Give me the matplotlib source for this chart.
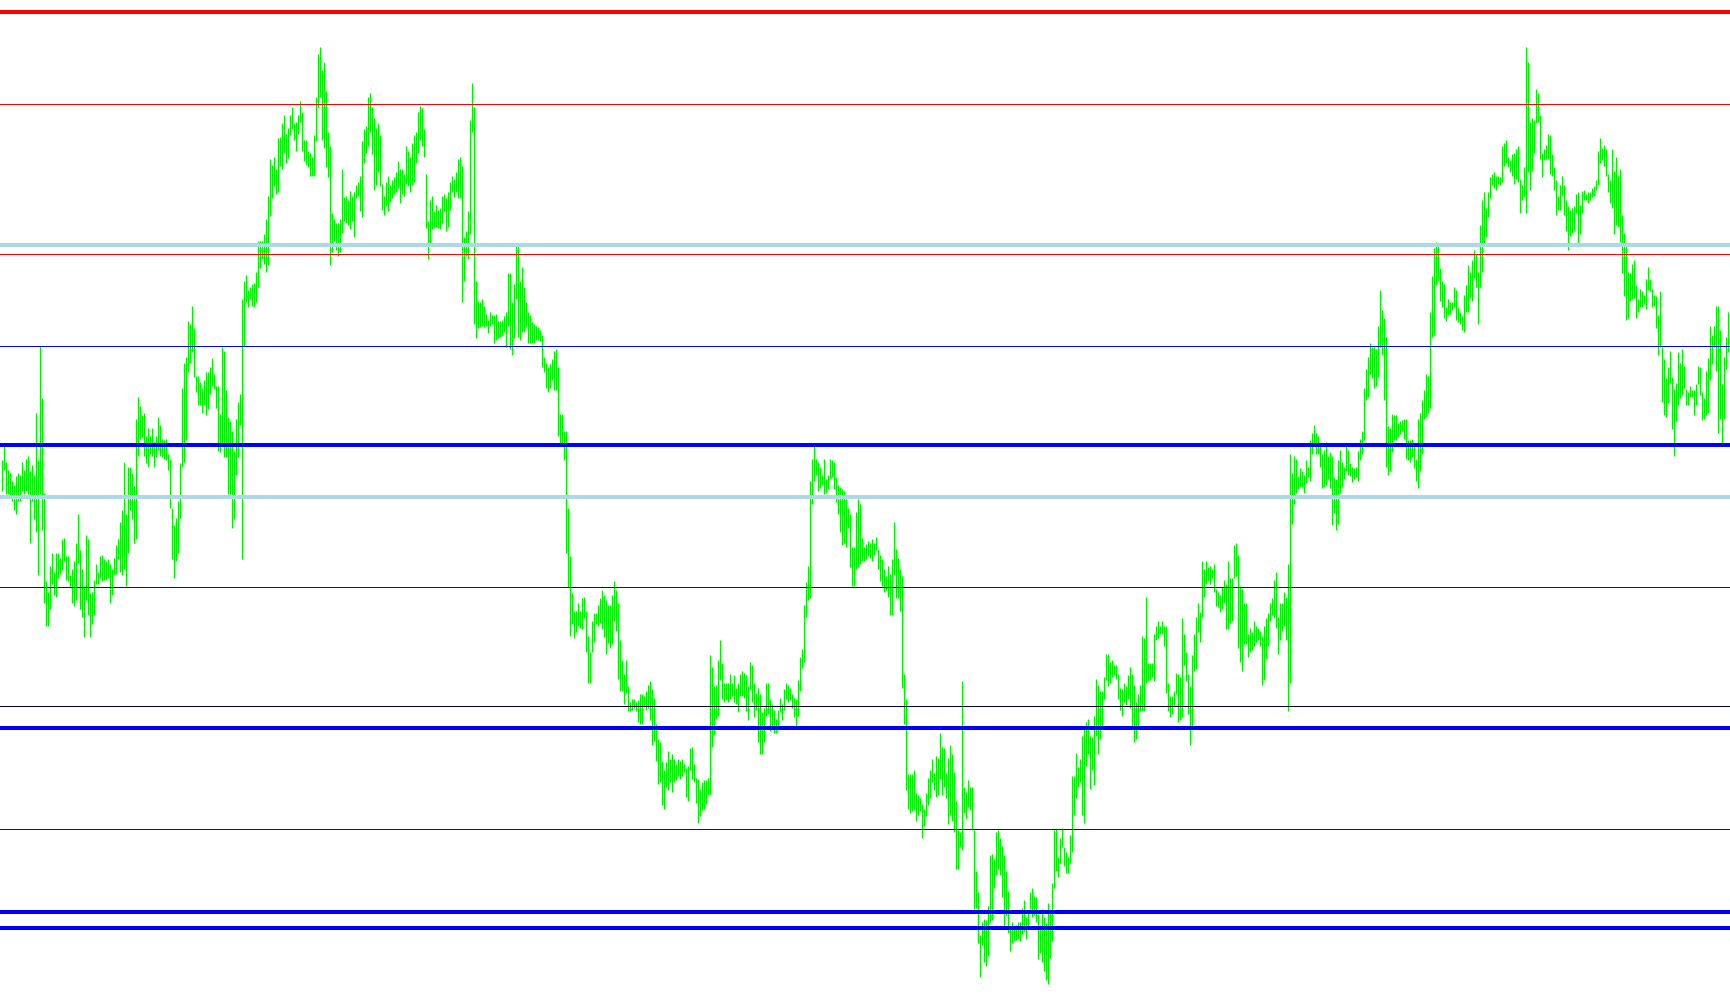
import numpy as np
import matplotlib.pyplot as plt

# bar highs / lows (price units), left to right
high = [
    905, 928, 902, 890, 885, 872, 865, 880, 885, 882, 902, 890, 908, 912, 888, 897, 882, 982, 905, 1090,
    1005, 852, 710, 692, 735, 755, 725, 755, 755, 748, 778, 780, 750, 750, 720, 730, 742, 772, 818, 760,
    730, 702, 784, 778, 690, 692, 712, 738, 725, 750, 752, 745, 742, 745, 738, 730, 748, 768, 778, 805,
    825, 902, 818, 895, 895, 885, 863, 972, 1008, 992, 978, 982, 945, 958, 945, 958, 935, 944, 975, 962,
    940, 938, 940, 915, 908, 828, 800, 812, 840, 900, 1022, 1062, 1072, 1130, 1125, 1154, 1118, 1042, 1042, 1032,
    1022, 1035, 1048, 1048, 1055, 1070, 1045, 1025, 1025, 980, 1088, 1082, 1018, 975, 968, 952, 920, 972, 1000, 1012,
    1165, 1195, 1205, 1180, 1185, 1190, 1192, 1210, 1260, 1260, 1260, 1270, 1295, 1332, 1392, 1382, 1395, 1375, 1425, 1428,
    1450, 1462, 1432, 1442, 1462,
    1475, 1450, 1452, 1462, 1485, 1468, 1422, 1422, 1405, 1402, 1395, 1430, 1492, 1562, 1572, 1535, 1548, 1502, 1435, 1412,
    1305, 1295, 1288, 1288, 1295, 1375, 1330, 1332, 1325, 1340, 1332, 1338, 1350, 1355, 1365, 1420, 1440, 1445, 1492, 1498,
    1475, 1458, 1442, 1450, 1430, 1352, 1332, 1355, 1365, 1350, 1358, 1362, 1370, 1388, 1375, 1375, 1368, 1412, 1405, 1395,
    1418, 1430, 1435, 1468, 1478, 1474, 1440, 1368, 1292, 1325, 1332, 1308, 1318, 1310, 1312, 1332, 1335, 1328, 1338, 1355,
    1365, 1360, 1370, 1392, 1395, 1380, 1265, 1275, 1308, 1455, 1515, 1475, 1195, 1162, 1160, 1165, 1155, 1142, 1132, 1145,
    1140, 1140, 1142, 1130, 1130, 1132, 1138, 1145, 1208, 1208, 1160, 1190, 1252, 1252, 1195, 1218, 1185, 1160, 1145, 1140,
    1128, 1125, 1122, 1120, 1115, 1108, 1072, 1062, 1055, 1060, 1068, 1082, 1085, 1055, 980, 980, 952, 952, 828, 750,
    690, 662, 662, 675, 662,
    682, 685, 662, 622, 595, 645, 658, 658, 672, 682, 695, 688, 680, 672, 672, 688, 710, 695, 675, 615,
    582, 560, 582, 540, 515, 520, 520, 515, 518, 528, 528, 525, 532, 542, 548, 535, 522, 480, 455, 450,
    420, 405, 418, 435, 422, 430, 422, 415, 422, 420, 422, 415, 408, 412, 440, 442, 415, 392, 390, 375,
    385, 388, 388, 392, 590, 572, 540, 542, 582, 615, 578, 545, 545, 545, 560, 545, 558, 538, 545, 560,
    565, 562, 558, 540, 580, 575, 545, 530, 538, 528, 498, 505, 545, 545, 520, 512, 502, 488, 502, 522,
    512, 535, 545, 542, 538, 528, 522, 520, 550, 588, 600, 672, 708, 735, 872, 908, 928, 908, 902, 895,
    882, 908, 875, 882, 908, 905, 902, 878, 865, 862, 858, 855, 842, 828, 818, 765, 765, 822, 842, 835,
    780, 765, 770, 775, 772,
    778, 772, 782, 762, 752, 745, 730, 718, 735, 722, 745, 805, 762, 748, 730, 718, 560, 520, 398, 398,
    398, 405, 368, 365, 360, 350, 342, 368, 392, 405, 422, 400, 428, 425, 465, 442, 440, 400, 425, 445,
    430, 402, 355, 308, 305, 548, 378, 370, 388, 378, 378, 308, 242, 208, 138, 160, 165, 162, 185, 268,
    270, 262, 305, 308, 295, 282, 268, 242, 210, 152, 160, 152, 155, 160, 160, 182, 195, 168, 178, 208,
    215, 202, 200, 172, 155, 180, 168, 158, 190, 180, 222, 308, 310, 265, 295, 312, 280, 272, 265, 300,
    395, 395, 432, 410, 422, 460, 472, 482, 488, 460, 458, 492, 552, 542, 532, 532, 555, 592, 592, 580,
    582, 575, 575, 560, 538, 535, 545, 540, 558, 572, 560, 542, 515, 528, 542, 622, 618, 685, 578, 578,
    578, 625, 638, 645, 638,
    645, 638, 638, 545, 525, 525, 532, 562, 560, 555, 650, 625, 595, 560, 540, 590, 625, 652, 675, 660,
    742, 730, 742, 732, 735, 730, 738, 698, 692, 688, 700, 712, 705, 742, 715, 715, 768, 772, 752, 702,
    698, 675, 675, 625, 635, 628, 645, 638, 635, 630, 622, 638, 650, 658, 675, 682, 712, 725, 652, 675,
    675, 692, 685, 738, 915, 885, 912, 908, 880, 892, 888, 882, 905, 895, 938, 950, 962, 950, 945, 928,
    915, 922, 935, 912, 918, 912, 878, 875, 905, 922, 902, 895, 928, 922, 900, 895, 892, 895, 920, 940,
    952, 1022, 1052, 1072, 1095, 1088, 1088, 1085, 1122, 1180, 1148, 1135, 1105, 960, 958, 980, 978, 978, 965, 968,
    970, 972, 972, 938, 938, 940, 928, 908, 972, 982, 1002, 1018, 1045, 1042, 1145, 1202, 1248, 1258, 1252, 1215,
    1195, 1190, 1152, 1165, 1160,
    1160, 1185, 1180, 1152, 1145, 1138, 1172, 1188, 1220, 1210, 1228, 1245, 1238, 1210, 1285, 1325, 1338, 1312, 1338, 1362,
    1368, 1370, 1365, 1365, 1362, 1412, 1418, 1422, 1395, 1390, 1400, 1402, 1408, 1412, 1360, 1350, 1378, 1572, 1548, 1452,
    1458, 1455, 1505, 1498, 1462, 1402, 1408, 1415, 1432, 1430, 1400, 1378, 1358, 1332, 1350, 1365, 1350, 1325, 1315, 1310,
    1312, 1315, 1335, 1338, 1318, 1340, 1342, 1335, 1338, 1338, 1345, 1348, 1358, 1405, 1425, 1410, 1415, 1408, 1368, 1358,
    1408, 1372, 1395, 1365, 1375, 1302, 1272, 1255, 1210, 1208, 1222, 1228, 1188, 1165, 1182, 1178, 1172, 1198, 1218, 1198,
    1182, 1172, 1170, 1140, 1178, 1088, 1068, 1038, 1055, 1082, 1040, 1020, 1030, 1080, 1062, 1085, 1058, 1020, 1015, 1025,
    1018, 1018, 1028, 1058, 1055, 1015, 1005, 1050, 1070, 1122, 1108, 1122, 1155, 1155, 1115, 1028, 1072, 1105, 1145, 1118,
]
low = [
    855, 890, 850, 850, 845, 840, 825, 818, 840, 840, 855, 850, 855, 850, 772, 840, 810, 790, 720, 850,
    792, 675, 638, 638, 665, 705, 688, 685, 715, 722, 728, 742, 712, 710, 700, 675, 670, 680, 740, 665,
    652, 620, 680, 655, 620, 640, 655, 705, 705, 715, 710, 712, 712, 715, 675, 688, 720, 722, 745, 725,
    720, 730, 702, 755, 825, 810, 772, 778, 912, 940, 942, 912, 900, 895, 915, 912, 895, 910, 922, 912,
    910, 908, 905, 890, 828, 745, 715, 742, 755, 812, 895, 902, 938, 1048, 1062, 1080, 1040, 1015, 995, 995,
    982, 995, 978, 988, 1012, 1025, 1020, 990, 920, 918, 932, 910, 910, 850, 850, 795, 810, 882, 910, 962,
    745, 1090, 1160, 1152, 1165, 1155, 1152, 1160, 1185, 1215, 1230, 1222, 1210, 1220, 1300, 1328, 1348, 1335, 1338, 1380,
    1375, 1402, 1385, 1393, 1430,
    1440, 1422, 1405, 1432, 1452, 1405, 1388, 1382, 1378, 1365, 1365, 1365, 1420, 1475, 1492, 1422, 1410, 1378, 1362, 1220,
    1242, 1260, 1245, 1235, 1242, 1272, 1292, 1288, 1285, 1278, 1292, 1265, 1328, 1332, 1308, 1298, 1385, 1402, 1412, 1435,
    1400, 1342, 1350, 1370, 1348, 1310, 1302, 1315, 1308, 1322, 1328, 1335, 1338, 1345, 1320, 1335, 1332, 1352, 1348, 1338,
    1350, 1355, 1385, 1402, 1422, 1412, 1395, 1280, 1230, 1255, 1278, 1280, 1282, 1280, 1278, 1288, 1308, 1275, 1282, 1310,
    1338, 1330, 1338, 1328, 1328, 1160, 1195, 1235, 1230, 1270, 1435, 1125, 1102, 1118, 1120, 1122, 1120, 1122, 1110, 1122,
    1125, 1095, 1100, 1102, 1105, 1108, 1112, 1088, 1122, 1085, 1075, 1102, 1165, 1105, 1100, 1112, 1112, 1120, 1095, 1095,
    1095, 1095, 1100, 1100, 1098, 1055, 1048, 1022, 1015, 1022, 1035, 1018, 1018, 945, 932, 932, 905, 755, 700, 622,
    640, 618, 628, 638, 635,
    632, 650, 595, 545, 545, 595, 612, 640, 638, 642, 632, 620, 592, 610, 602, 608, 645, 630, 552, 532,
    532, 512, 530, 500, 500, 502, 505, 500, 482, 480, 480, 508, 502, 505, 485, 445, 452, 420, 382, 385,
    348, 342, 378, 372, 385, 370, 385, 388, 395, 390, 395, 402, 362, 355, 405, 390, 385, 352, 320, 330,
    340, 342, 350, 365, 365, 442, 462, 488, 492, 550, 520, 515, 518, 515, 520, 525, 515, 512, 498, 525,
    525, 522, 500, 485, 535, 515, 490, 502, 450, 430, 430, 450, 492, 495, 468, 472, 465, 465, 470, 498,
    485, 502, 520, 515, 518, 505, 490, 475, 492, 532, 570, 580, 652, 680, 682, 835, 872, 882, 855, 860,
    865, 850, 852, 858, 875, 878, 858, 838, 818, 790, 768, 772, 765, 795, 732, 702, 702, 730, 732, 738,
    742, 742, 745, 750, 748,
    742, 752, 760, 730, 710, 702, 692, 695, 685, 655, 655, 720, 682, 682, 662, 538, 480, 372, 342, 335,
    338, 340, 322, 332, 338, 295, 315, 330, 348, 360, 385, 372, 362, 365, 390, 365, 378, 360, 318, 332,
    322, 305, 245, 245, 280, 275, 335, 325, 345, 340, 308, 180, 182, 125, 70, 122, 95, 88, 105, 160,
    162, 215, 235, 245, 235, 200, 152, 170, 142, 112, 125, 128, 130, 132, 128, 140, 145, 132, 152, 180,
    168, 170, 160, 100, 110, 95, 80, 65, 60, 102, 128, 215, 242, 232, 255, 280, 250, 238, 238, 255,
    272, 332, 360, 378, 385, 332, 320, 412, 430, 375, 405, 380, 460, 430, 455, 472, 520, 550, 540, 545,
    555, 558, 552, 520, 502, 492, 515, 510, 520, 505, 472, 450, 455, 472, 500, 500, 500, 545, 548, 550,
    555, 548, 615, 618, 625,
    625, 605, 530, 500, 490, 495, 510, 528, 482, 485, 490, 575, 548, 495, 445, 470, 565, 568, 628, 612,
    652, 685, 705, 710, 705, 715, 692, 670, 668, 660, 665, 675, 632, 632, 642, 645, 715, 718, 602, 580,
    565, 608, 608, 588, 595, 598, 605, 612, 615, 605, 542, 550, 585, 605, 645, 655, 650, 635, 592, 615,
    630, 638, 615, 500, 545, 802, 835, 852, 858, 862, 862, 852, 868, 878, 872, 915, 932, 915, 915, 895,
    860, 862, 865, 875, 860, 800, 820, 792, 802, 852, 862, 875, 888, 882, 880, 870, 875, 878, 872, 905,
    915, 938, 1002, 1008, 1045, 1038, 1022, 1025, 1040, 1088, 1075, 1002, 895, 882, 888, 918, 938, 938, 942, 948,
    952, 940, 908, 905, 902, 910, 892, 872, 860, 888, 915, 972, 975, 982, 990, 1105, 1108, 1188, 1195, 1162,
    1152, 1135, 1130, 1140, 1142,
    1148, 1152, 1132, 1128, 1125, 1115, 1112, 1145, 1145, 1168, 1162, 1200, 1185, 1125, 1185, 1210, 1255, 1265, 1298, 1328,
    1350, 1345, 1342, 1352, 1350, 1355, 1380, 1385, 1378, 1370, 1365, 1352, 1360, 1355, 1305, 1325, 1330, 1305, 1370, 1342,
    1372, 1402, 1450, 1452, 1392, 1362, 1390, 1392, 1392, 1368, 1365, 1342, 1302, 1310, 1310, 1332, 1302, 1275, 1245, 1268,
    1272, 1275, 1305, 1255, 1270, 1305, 1325, 1325, 1320, 1325, 1330, 1332, 1342, 1350, 1385, 1390, 1380, 1365, 1338, 1320,
    1312, 1270, 1285, 1282, 1258, 1208, 1170, 1132, 1135, 1162, 1165, 1168, 1135, 1145, 1152, 1152, 1158, 1150, 1180, 1178,
    1152, 1155, 1118, 1075, 1088, 1000, 978, 975, 998, 1030, 955, 912, 968, 995, 1005, 1010, 1022, 995, 995, 1008,
    1008, 978, 995, 1028, 1010, 970, 972, 978, 982, 1035, 1060, 1088, 1050, 950, 972, 932, 972, 1052, 1080, 1072,
]

# horizontal levels: price, colour, width (px)
level_price = [1629, 1480, 1253, 1238, 1090, 930, 846, 700, 509, 472, 310, 175, 150]
level_color = ['#ff0000', '#ff0000', '#add8e6', '#ff0000', '#0000ff', '#0000ff', '#add8e6',
               '#0000ff', '#000040', '#0000ff', '#0000ff', '#0000ff', '#0000ff']
level_width = [4, 1, 4, 1, 1, 4, 4, 1, 1, 4, 1, 4, 4]

dpi = 100
fig = plt.figure(figsize=(17.3, 10.05), dpi=dpi)
ax = fig.add_axes([0, 0, 1, 1])

x = np.arange(len(high))
ax.vlines(x, low, high, color='#00f000', linewidth=1.2 * 72 / dpi, zorder=2)

for p, c, w in zip(level_price, level_color, level_width):
    ax.axhline(p, color=c, linewidth=w * 72 / dpi, zorder=3)

# shift by a quarter bar so each bar sits on a pixel centre
ax.set_xlim(-0.75, len(high) - 0.75)
ax.set_ylim(25.4, 1648.5)
ax.axis('off')

fig.savefig('out.png', dpi=dpi, facecolor='white')
